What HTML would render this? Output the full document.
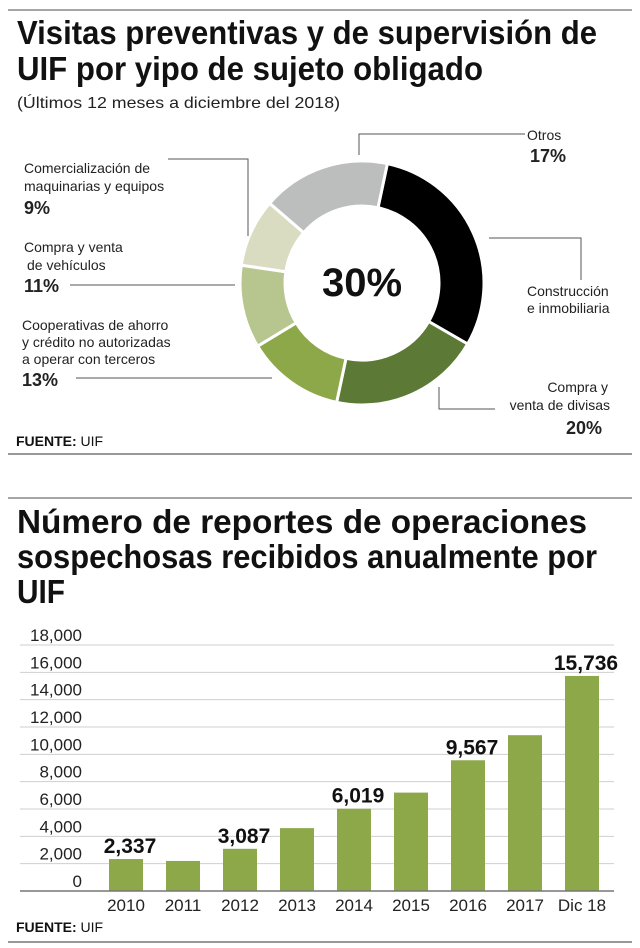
<!DOCTYPE html>
<html><head><meta charset="utf-8"><style>
html,body{margin:0;padding:0;background:#fff;}
svg{display:block;font-family:"Liberation Sans Narrow","Liberation Sans",sans-serif;}
</style></head><body>
<svg id="chart" width="640" height="948" viewBox="0 0 640 948" xmlns="http://www.w3.org/2000/svg">
<line x1="8" y1="10" x2="632" y2="10" stroke="#888" stroke-width="1.5"/>
<g font-weight="bold" font-size="33" fill="#111">
<text x="17" y="44" textLength="580" lengthAdjust="spacingAndGlyphs">Visitas preventivas y de supervisión de</text>
<text x="17" y="80" textLength="466" lengthAdjust="spacingAndGlyphs">UIF por yipo de sujeto obligado</text>
</g>
<text x="17" y="108" font-size="16" fill="#222" textLength="323" lengthAdjust="spacingAndGlyphs">(Últimos 12 meses a diciembre del 2018)</text>
<g id="donut"></g>
<text x="362" y="296" font-size="40" font-weight="bold" text-anchor="middle" fill="#111">30%</text>
<g font-size="14" fill="#222">
<text x="527" y="140">Otros</text><text x="530" y="162" font-weight="bold" font-size="18">17%</text>
<text x="24" y="173">Comercialización de</text><text x="24" y="191">maquinarias y equipos</text><text x="24" y="214" font-weight="bold" font-size="18">9%</text>
<text x="24" y="252">Compra y venta</text><text x="27" y="270">de vehículos</text><text x="24" y="292" font-weight="bold" font-size="18">11%</text>
<text x="22" y="330">Cooperativas de ahorro</text><text x="22" y="347">y crédito no autorizadas</text><text x="22" y="364">a operar con terceros</text><text x="22" y="386" font-weight="bold" font-size="18">13%</text>
<text x="527" y="296">Construcción</text><text x="527" y="313">e inmobiliaria</text>
<text x="608" y="392" text-anchor="end">Compra y</text><text x="610" y="410" text-anchor="end">venta de divisas</text><text x="602" y="434" font-weight="bold" font-size="18" text-anchor="end">20%</text>
</g>
<g fill="none" stroke="#555" stroke-width="1">
<polyline points="359,155 359,134 525,134"/>
<polyline points="168,159 248,159 248,236"/>
<polyline points="70,285 235,285"/>
<polyline points="76,378 272,378"/>
<polyline points="489,238 581,238 581,280"/>
<polyline points="439,387 439,409 495,409"/>
</g>
<text x="16" y="446" font-size="14" fill="#111"><tspan font-weight="bold">FUENTE:</tspan> UIF</text>
<line x1="8" y1="454" x2="632" y2="454" stroke="#333" stroke-width="1"/>
<line x1="8" y1="498" x2="632" y2="498" stroke="#888" stroke-width="1.5"/>
<g font-weight="bold" font-size="33" fill="#111">
<text x="17" y="533" textLength="570" lengthAdjust="spacingAndGlyphs">Número de reportes de operaciones</text>
<text x="17" y="568" textLength="580" lengthAdjust="spacingAndGlyphs">sospechosas recibidos anualmente por</text>
<text x="17" y="603" textLength="48" lengthAdjust="spacingAndGlyphs">UIF</text>
</g>
<g id="bars"></g>
<text x="16" y="932" font-size="14" fill="#111"><tspan font-weight="bold">FUENTE:</tspan> UIF</text>
<line x1="8" y1="942" x2="632" y2="942" stroke="#333" stroke-width="1"/>
</svg>
<script>
var sliceNames=["Construcción e inmobiliaria","Compra y venta de divisas","Cooperativas","Vehículos","Maquinarias","Otros"];
var sliceValues=[30,20,13,11,9,17];
var sliceColors=["#000000","#5c7a35","#8ca849","#b7c58f","#d9dcc1","#bcbebd"];
var categories=["2010","2011","2012","2013","2014","2015","2016","2017","Dic 18"];
var barValues=[2337,2200,3087,4600,6019,7200,9567,11400,15736];
var barLabels=["2,337","","3,087","","6,019","","9,567","","15,736"];
var yTicks=[0,2000,4000,6000,8000,10000,12000,14000,16000,18000];
var yTickLabels=["0","2,000","4,000","6,000","8,000","10,000","12,000","14,000","16,000","18,000"];
var NS="http://www.w3.org/2000/svg";
function mk(t,a,p){var e=document.createElementNS(NS,t);for(var k in a)e.setAttribute(k,a[k]);p.appendChild(e);return e;}
var cx=362,cy=283,R=122,r=77,start=12;
var tot=sliceValues.reduce(function(a,b){return a+b;},0);
var dg=document.getElementById('donut'),acc=0;
function pt(rad,deg){var a=(deg-90)*Math.PI/180;return [cx+rad*Math.cos(a),cy+rad*Math.sin(a)];}
sliceValues.forEach(function(v,i){
 var a0=start+acc/tot*360,a1=start+(acc+v)/tot*360;acc+=v;
 var p0=pt(R,a0),p1=pt(R,a1),q1=pt(r,a1),q0=pt(r,a0),lg=(a1-a0)>180?1:0;
 var p=mk('path',{d:'M'+p0+' A'+R+','+R+' 0 '+lg+' 1 '+p1+' L'+q1+' A'+r+','+r+' 0 '+lg+' 0 '+q0+' Z',fill:sliceColors[i],stroke:'#fff','stroke-width':3},dg);
 
 
});
var bg=document.getElementById('bars');
var y0=891,yTop=645,yMax=18000,x0=126,step=57,bw=34;
function ys(v){return y0-(v/yMax)*(y0-yTop);}
function xs(i){return x0+i*step;}
yTicks.forEach(function(t,i){
 if(i>0){var l=mk('line',{x1:20,x2:614,y1:ys(t),y2:ys(t),stroke:'#cfcfcf','stroke-width':1},bg);
 
 }
 var tx=mk('text',{x:82,y:ys(t)-4,'font-size':17,fill:'#222','text-anchor':'end'},bg);tx.textContent=yTickLabels[i];
 
 
});
barValues.forEach(function(v,i){
 var b=mk('rect',{x:xs(i)-bw/2,y:ys(v),width:bw,height:y0-ys(v),fill:'#8ca849'},bg);
 
 
 var c=mk('text',{x:xs(i),y:911,'font-size':17,fill:'#222','text-anchor':'middle'},bg);c.textContent=categories[i];
 
 
 if(barLabels[i]){var t=mk('text',{x:xs(i)+4,y:ys(v)-6,'font-size':21,'font-weight':'bold',fill:'#111','text-anchor':'middle'},bg);t.textContent=barLabels[i];
 
 }
});
var ax=mk('line',{x1:20,x2:614,y1:y0,y2:y0,stroke:'#777','stroke-width':1.5},bg);


</script>
</body></html>
